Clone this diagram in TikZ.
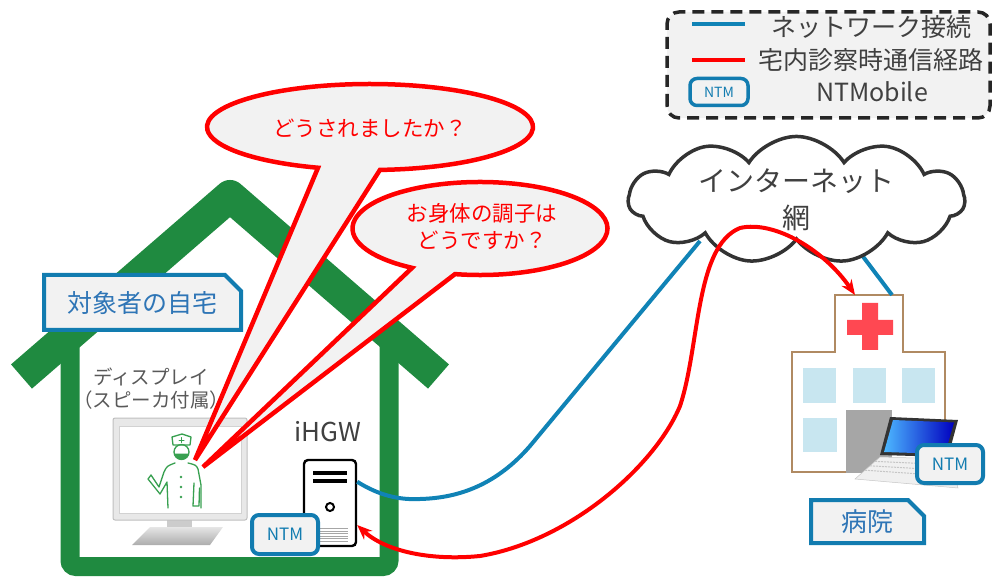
\documentclass[tikz,border=0pt]{standalone}
\usepackage{fontspec}
\setmainfont{Noto Sans CJK JP}
\usetikzlibrary{positioning,shapes.symbols,shapes.misc,arrows.meta,calc}

\definecolor{housegreen}{RGB}{31,138,64}
\definecolor{netblue}{RGB}{16,131,182}
\definecolor{tagblue}{RGB}{18,124,176}
\definecolor{tagtext}{RGB}{46,117,182}
\definecolor{panel}{RGB}{242,242,242}
\definecolor{ink}{RGB}{64,64,64}
\definecolor{nursegreen}{RGB}{56,160,80}
\definecolor{crossred}{RGB}{255,72,82}
\definecolor{winblue}{RGB}{200,230,240}
\definecolor{wallbrown}{RGB}{176,138,98}
\newcommand{\txtsize}[2]{\fontsize{#1pt}{#2pt}\selectfont}

\begin{document}
\begin{tikzpicture}[
    x=1pt, y=1pt,
    roof/.style={housegreen, line width=32pt, line join=round},
    wall/.style={housegreen, line width=19pt, rounded corners=6pt},
    ntm/.style={draw=tagblue, line width=4pt, fill=panel, rounded corners=7pt, text=tagblue, inner sep=0pt},
    tag/.style={chamfered rectangle, chamfered rectangle corners=north east, chamfered rectangle xsep=8pt, chamfered rectangle ysep=8pt, draw=tagblue, line width=4pt, fill=panel, text=tagtext, inner sep=0pt},
    bubble/.style={draw=red, line width=4.5pt, fill=panel},
    say/.style={text=red, align=center, font=\txtsize{21.5}{27}},
    link/.style={netblue, line width=4pt},
    route/.style={red, line width=4pt, {Stealth[length=15pt,width=12pt]}-{Stealth[length=15pt,width=12pt]}},
    keytext/.style={text=ink, font=\txtsize{25}{28}}
    ]
    \useasboundingbox (0,0) rectangle (995,576);

    % legend
    \draw[dash pattern=on 12pt off 7pt, line width=3.5pt, draw=black!85, fill=panel, rounded corners=12pt] (667,458) rectangle (990,564);
    \draw[link] (692,552) -- (745,552);
    \draw[red, line width=4pt] (692,516) -- (745,516);
    \node[ntm, line width=3.5pt, minimum width=58pt, minimum height=27pt, font=\txtsize{14}{16}] (ntmkey) at (719,484) {NTM};
    \node[keytext] (k1) at (871,549) {ネットワーク接続};
    \node[keytext] (k2) at (871,516) {宅内診察時通信経路};
    \node[keytext] (k3) at (872,484) {NTMobile};

    % house
    \draw[wall] (70,245) -- (70,9.5) -- (389,9.5) -- (389,245);
    \draw[roof] (21.5,199.5) -- (230,380) -- (438.5,199.5);
    \node[tag, minimum width=197pt, minimum height=55pt, font=\txtsize{25}{28}] (home) at (142.5,273.5) {対象者の自宅};

    % display with speaker
    \node[align=center, text=black!65, font=\txtsize{19.5}{23}] (dlabel) at (151,187.5) {ディスプレイ\\（スピーカ付属）};
    \fill[gray!40] (167,46) rectangle (192,56);
    \shade[top color=gray!20, bottom color=gray!65] (150,49) -- (223,49) -- (210,31) -- (132,31) -- cycle;
    \node[draw=gray!50, line width=1pt, fill=gray!18, rounded corners=2pt, minimum width=134pt, minimum height=102pt, inner sep=0pt] (mon) at (180,107) {};
    \node[draw=gray!35, fill=white, minimum width=122pt, minimum height=87pt, inner sep=0pt] (scr) at (180,106.5) {};

    % doctor on screen
    \begin{scope}[nursegreen, line width=1.3pt, line join=round, line cap=round]
      \draw[fill=white] (173,131) -- (172,139) -- (182,142) -- (191,139) -- (190,131) -- cycle;
      \draw[line width=1pt] (179,136) -- (184,136) (181.5,133.5) -- (181.5,138.5);
      \draw (181.5,124) circle[radius=7.5pt];
      \fill (174.2,122.4) arc[start angle=192, end angle=348, radius=7.5pt] -- cycle;
      \draw (168,68) -- (167,94) -- (160,82) -- (148,97) -- (151,101) -- (159,89) -- (164,104) .. controls (167,110) .. (175,113);
      \draw (188,113) .. controls (196,111) .. (198,107) -- (201,91) -- (201,68);
      \draw (194,93) -- (193,70) -- (199,70) -- (199.5,88);
      \foreach \y in {79,89,99} \fill (181,\y) circle[radius=1.3pt];
    \end{scope}

    % home gateway
    \node[text=ink, font=\txtsize{26}{30}] (gwlabel) at (328,144) {iHGW};
    \node[draw, line width=2.4pt, rounded corners=4pt, fill=white, minimum width=52pt, minimum height=86pt, inner sep=0pt] (srv) at (330,73) {};
    \draw[line width=3.5pt] (313,103) -- (347,103) (313,95) -- (347,95);
    \draw[line width=2pt] (330,69) circle[radius=4pt];
    \foreach \y in {35,37.5,...,49} \draw[gray!70, line width=0.8pt] (313,\y) -- (348,\y);
    \node[ntm, minimum width=66pt, minimum height=39pt, font=\txtsize{17}{20}] (ntmhome) at (285,41.5) {NTM};

    % speech balloons
    \draw[bubble] (370,449) ++(273.5:163pt and 43pt) arc[start angle=273.5, end angle=611.4, x radius=163pt, y radius=43pt] -- (195,116) -- cycle;
    \node[say] (q1) at (370,448) {どうされましたか？};
    \draw[bubble] (480,347.5) ++(258.7:127.5pt and 46.5pt) arc[start angle=258.7, end angle=597.8, x radius=127.5pt, y radius=46.5pt] -- (203,109) -- cycle;
    \node[say] (q2) at (482,349.5) {お身体の調子は\\どうですか？};

    % hospital
    \coordinate (hospIn) at (855,281);
    \coordinate (hospTop) at (892,281);
    \coordinate (netL) at (700,335);
    \coordinate (netR) at (849,338);
    \draw[wallbrown, line width=1.8pt, fill=white] (792,104) -- (792,224) -- (835,224) -- (835,281) -- (903,281) -- (903,224) -- (945,224) -- (945,104) -- cycle;
    \fill[crossred] (862,226) rectangle (878,273) (847,241) rectangle (893,256);
    \foreach \x in {803,853,902} \fill[winblue] (\x,173) rectangle ++(33,35);
    \fill[winblue] (803,124) rectangle (837,158);
    \fill[gray!70] (846,103) rectangle (892,166);
    \draw[gray!45, fill=gray!12, line width=0.5pt] (880,119) -- (950,117) -- (958,88) -- (855,97) -- cycle;
    \foreach \t in {0.2,0.4,0.6} \draw[gray!45, dash pattern=on 2pt off 1pt, line width=1pt] ($(880,119)!\t!(855,97)$) -- ($(950,117)!\t!(958,88)$);
    \fill[black!80] (890,159) -- (958,156) -- (948,119) -- (880,121) -- cycle;
    \shade[left color=cyan!60!blue!70, right color=blue!75!black] (893,156) -- (954,153.5) -- (945,122) -- (884,124) -- cycle;
    \node[ntm, minimum width=66pt, minimum height=38pt, font=\txtsize{17}{20}] (ntmhosp) at (950,112) {NTM};
    \node[tag, minimum width=113pt, minimum height=43pt, font=\txtsize{26}{29}] (hosp) at (867.5,54.5) {病院};

    % network links
    \draw[link] (srv.38) .. controls (380,80) and (400,76) .. (420,77) .. controls (460,78) and (497,92) .. (530,130) -- (netL);
    \draw[link] (netR) -- (hospTop);
    \node[cloud, cloud puffs=11, cloud puff arc=115, cloud ignores aspect, draw=black!80, line width=3.5pt, fill=white, minimum width=336pt, minimum height=108pt, align=center, text=ink, font=\txtsize{28}{37}, inner sep=0pt] (net) at (796.5,376) {インターネット\\網};

    % consultation route
    \draw[route] (srv.-39) .. controls (385,25) and (430,15) .. (480,20) .. controls (570,35) and (655,110) .. (680,170) .. controls (700,230) and (695,330) .. (740,348) .. controls (775,356) and (825,325) .. (hospIn);

\end{tikzpicture}
\end{document}
